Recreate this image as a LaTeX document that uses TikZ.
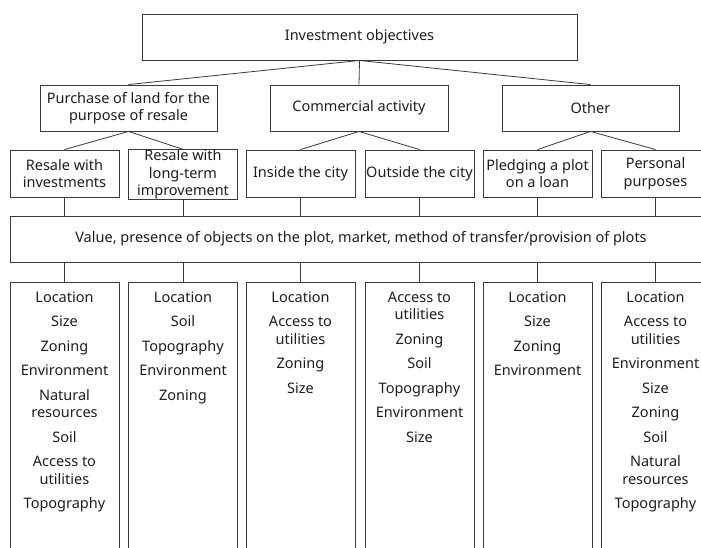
\documentclass[tikz,border=0pt]{standalone}
\usepackage{fontspec}
\setmainfont{Noto Sans}
\definecolor{linec}{HTML}{3A3A3A}
\definecolor{txt}{HTML}{1E1E1E}
\newcommand{\dgfont}{\fontsize{14.5}{17.5}\selectfont}
\begin{document}
\begin{tikzpicture}[x=1pt,y=-1pt,
  box/.style={draw=linec, line width=0.9pt, rectangle, inner sep=0pt, align=center, font=\dgfont, text=txt},
  topbox/.style={box, minimum width=435pt, minimum height=46pt},
  midbox/.style={box, minimum width=177pt, minimum height=46pt},
  leafbox/.style={box, minimum width=109pt, minimum height=47pt},
  listbox/.style={box, minimum width=109pt, minimum height=278pt},
  listtext/.style={inner sep=0pt, align=center, font=\dgfont, text=txt, anchor=north},
  conn/.style={draw=linec, line width=0.8pt}]
\clip (0,0) rectangle (701,547);
\fill[white] (0,0) rectangle (701,547);

\node[topbox] (top) at (359.5,37) {Investment objectives};

\node[midbox] (purch) at (128.5,108) {Purchase of land for the\\purpose of resale};
\node[midbox, minimum width=178pt] (comm) at (359,108) {Commercial activity};
\node[midbox] (other) at (590.5,108) {Other};

\node[leafbox] (l1) at (64.5,173.5) {Resale with\\investments};
\node[leafbox] (l2) at (183,174.5) {Resale with\\long-term\\improvement};
\node[leafbox] (l3) at (300.5,173.5) {Inside the city};
\node[leafbox] (l4) at (419.5,173.5) {Outside the city};
\node[leafbox] (l5) at (537.5,173.5) {Pledging a plot\\on a loan};
\node[leafbox] (l6) at (655.5,173.5) {Personal\\purposes};

\node[box, minimum width=702pt, minimum height=46pt] (val) at (361,239) {Value, presence of objects on the plot, market, method of transfer/provision of plots};

\foreach \i/\x in {1/64.5,2/183,3/300.5,4/419.5,5/537.5,6/655.5}{
  \node[listbox] (b\i) at (\x,421) {};
}

\node[listtext] (t1) at ([yshift=-10pt]b1.north) {Location\\[7pt]Size\\[7pt]Zoning\\[7pt]Environment\\[7pt]Natural\\resources\\[7pt]Soil\\[7pt]Access to\\utilities\\[7pt]Topography};
\node[listtext] (t2) at ([yshift=-10pt]b2.north) {Location\\[7pt]Soil\\[7pt]Topography\\[7pt]Environment\\[7pt]Zoning};
\node[listtext] (t3) at ([yshift=-10pt]b3.north) {Location\\[7pt]Access to\\utilities\\[7pt]Zoning\\[7pt]Size};
\node[listtext] (t4) at ([yshift=-10pt]b4.north) {Access to\\utilities\\[7pt]Zoning\\[7pt]Soil\\[7pt]Topography\\[7pt]Environment\\[7pt]Size};
\node[listtext] (t5) at ([yshift=-10pt]b5.north) {Location\\[7pt]Size\\[7pt]Zoning\\[7pt]Environment};
\node[listtext] (t6) at ([yshift=-10pt]b6.north) {Location\\[7pt]Access to\\utilities\\[7pt]Environment\\[7pt]Size\\[7pt]Zoning\\[7pt]Soil\\[7pt]Natural\\resources\\[7pt]Topography};

\draw[conn] (top.south) -- (purch.north);
\draw[conn] (top.south) -- (comm.north);
\draw[conn] (top.south) -- (other.north);
\draw[conn] (purch.south) -- (l1.north);
\draw[conn] (purch.south) -- (l2.north);
\draw[conn] (comm.south) -- (l3.north);
\draw[conn] (comm.south) -- (l4.north);
\draw[conn] (other.south) -- (l5.north);
\draw[conn] (other.south) -- (l6.north);
\foreach \i in {1,...,6}{
  \draw[conn] (l\i.south) -- (l\i.south |- val.north);
  \draw[conn] (b\i.north |- val.south) -- (b\i.north);
}
\end{tikzpicture}
\end{document}
